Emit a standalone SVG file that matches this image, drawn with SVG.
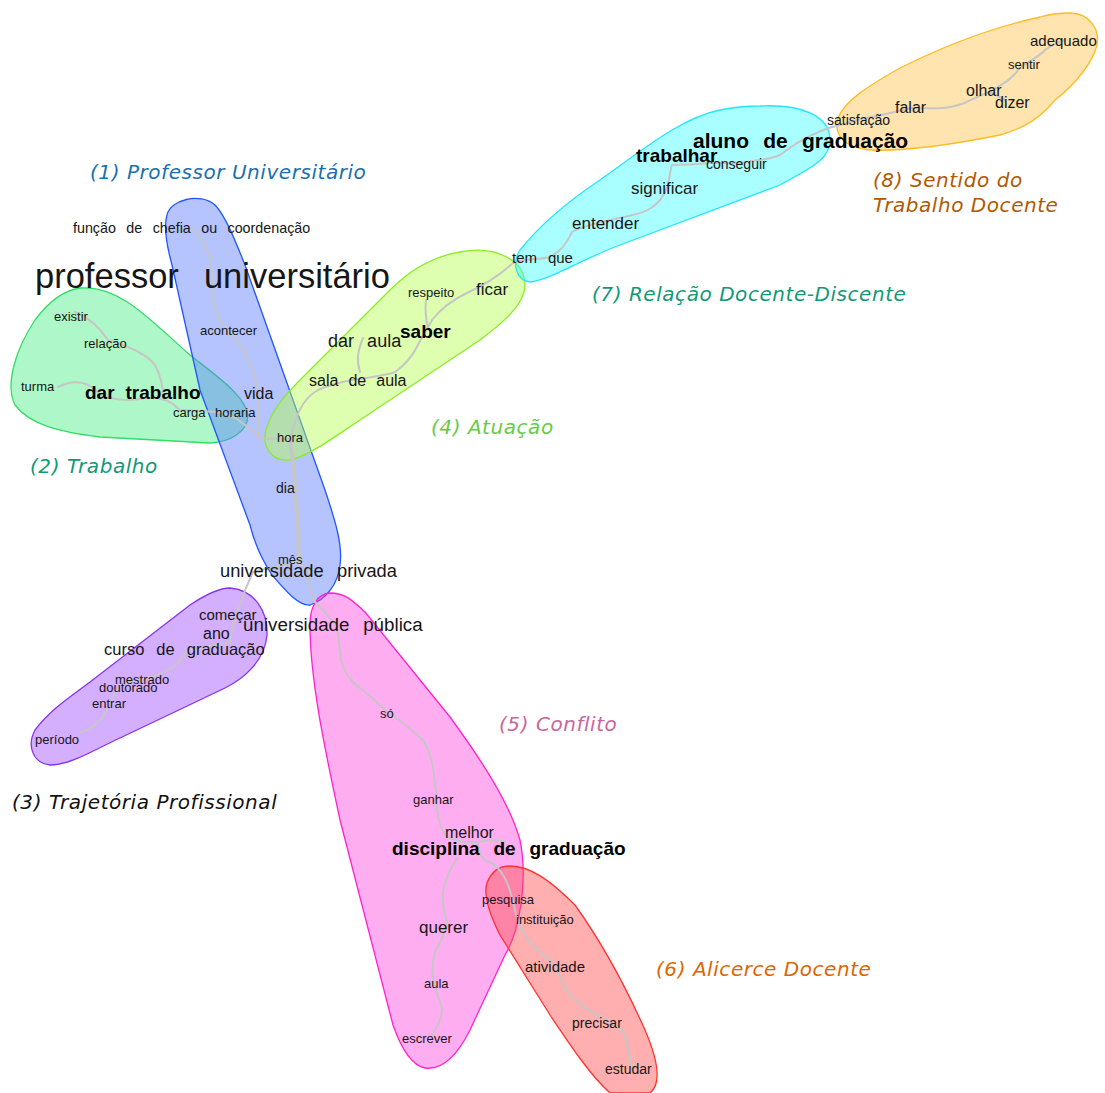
<svg xmlns="http://www.w3.org/2000/svg" width="1105" height="1093" viewBox="0 0 1105 1093">
<style>
.halo{stroke-width:1.3}
.e{fill:none;stroke:#c6c6c6;stroke-width:2;stroke-linejoin:round;stroke-linecap:round}
.w{font-family:"Liberation Sans",Arial,sans-serif;fill:#161616;word-spacing:0.45em}
.b{font-weight:bold;fill:#000}
.c{font-family:"DejaVu Sans",Verdana,sans-serif;font-style:italic;font-size:20px;letter-spacing:0.55px}
</style>
<rect width="1105" height="1093" fill="#ffffff"/>
<g id="halos">
<path id="halo-2" class="halo" fill="#6cf09a" fill-opacity="0.55" stroke="#33dd66" d="M 80,288 C 120,285 150,320 190,355 C 215,375 245,395 248,415 C 248,432 230,442 210,443 L 100,437 C 60,432 30,425 15,405 C 5,385 15,350 35,320 C 50,300 65,290 80,288 Z"/>
<path id="halo-1" class="halo" fill="#5a7dff" fill-opacity="0.45" stroke="#2255ff" d="M 167,215 C 170,200 200,192 215,205 C 225,215 235,240 245,265 L 325,490 C 335,520 343,545 340,565 C 338,585 325,600 310,605 C 298,606 285,590 272,575 C 262,560 255,545 250,525 L 200,390 L 172,265 C 166,243 164,225 167,215 Z"/>
<path id="halo-4" class="halo" fill="#b6ff4d" fill-opacity="0.45" stroke="#88ee22" d="M 460,252 C 495,245 525,260 525,285 C 525,305 500,325 480,340 L 360,420 C 330,440 310,455 290,460 C 270,462 262,445 266,430 C 272,410 285,395 300,380 L 390,290 C 410,270 435,256 460,252 Z"/>
<path id="halo-7" class="halo" fill="#33ffff" fill-opacity="0.42" stroke="#22e6ff" d="M 760,106 C 800,104 830,115 830,140 C 830,160 810,168 780,185 L 620,245 C 580,260 550,280 530,282 C 515,280 512,262 520,250 C 540,225 570,200 600,180 C 640,152 680,118 720,110 C 735,107 748,106 760,106 Z"/>
<path id="halo-8" class="halo" fill="#ffc34d" fill-opacity="0.45" stroke="#ffbb22" d="M 1070,13 C 1090,13 1100,30 1097,45 C 1093,62 1075,85 1055,100 C 1040,118 1025,128 1000,135 C 960,143 910,152 870,150 C 845,148 833,135 838,118 C 845,100 870,85 900,68 C 940,48 990,28 1040,17 C 1050,14 1060,13 1070,13 Z"/>
<path id="halo-3" class="halo" fill="#a04dff" fill-opacity="0.45" stroke="#8833ee" d="M 230,588 C 255,590 268,612 267,635 C 265,660 245,678 225,688 L 120,738 C 90,752 70,765 50,765 C 32,763 27,745 35,730 C 50,710 70,697 90,682 L 190,605 C 205,595 218,588 230,588 Z"/>
<path id="halo-5" class="halo" fill="#ff33dd" fill-opacity="0.4" stroke="#ff22cc" d="M 330,593 C 345,593 352,600 365,612 L 450,717 C 485,765 510,805 520,840 C 528,880 520,930 505,955 L 470,1030 C 455,1060 440,1070 425,1068 C 410,1065 400,1045 393,1025 L 340,820 C 325,750 310,680 310,625 C 310,605 318,594 330,593 Z"/>
<path id="halo-6" class="halo" fill="#ff4d4d" fill-opacity="0.45" stroke="#ff3333" d="M 510,866 C 530,866 550,880 575,905 C 600,940 625,985 645,1030 C 660,1065 660,1085 650,1093 L 610,1093 C 590,1075 570,1045 550,1015 L 500,935 C 490,915 483,895 487,883 C 492,870 500,866 510,866 Z"/>
</g>
<g id="connectors">
<path class="e" d="M 192,228 C 205,240 212,258 212,277 C 213,300 212,318 232,335 C 250,355 258,380 258,400 L 258,438 L 290,440"/>
<path class="e" d="M 218,412 C 235,414 248,428 262,438"/>
<path class="e" d="M 58,387 C 75,378 90,382 100,395 C 115,400 130,402 145,398 C 160,396 172,402 180,410 L 218,412"/>
<path class="e" d="M 75,312 C 90,318 100,328 108,340 C 125,345 145,352 155,365 C 160,375 163,385 163,395"/>
<path class="e" style="stroke-width:4" d="M 290,440 C 293,460 296,480 296,500 C 297,520 300,535 298,548 L 300,562"/>
<path class="e" d="M 300,562 L 308,572 C 310,585 310,595 315,602 C 325,612 332,618 337,628"/>
<path class="e" d="M 290,440 C 295,420 300,400 318,390 C 330,385 340,382 352,380 C 370,377 385,376 395,372 C 405,365 413,355 418,345 C 423,335 428,328 432,320 C 440,310 452,300 467,293 C 485,285 500,275 513,263"/>
<path class="e" d="M 363,338 C 358,350 356,360 360,372"/>
<path class="e" d="M 426,300 C 425,310 426,320 428,327"/>
<path class="e" d="M 513,263 C 525,258 540,260 550,257 C 560,252 566,245 572,232 C 590,222 615,220 632,215 C 648,212 660,205 667,188 C 670,178 670,170 672,165 C 685,165 700,164 710,163 L 738,163 C 755,160 770,160 780,155 L 797,143"/>
<path class="e" d="M 797,143 C 812,135 820,130 832,127 C 845,124 855,120 865,118 C 885,115 900,110 912,108 C 930,108 945,110 962,104 C 972,100 980,95 990,92 L 1005,100"/>
<path class="e" d="M 990,92 C 1000,85 1012,80 1018,70 C 1030,60 1040,56 1045,50 C 1052,45 1058,42 1065,40"/>
<path class="e" d="M 300,562 C 285,565 265,568 253,572 C 247,585 243,595 240,605 C 236,612 234,618 233,625 C 232,632 231,637 230,642 C 220,645 200,648 187,650 C 182,658 178,664 173,667 C 165,672 158,675 150,677 C 138,680 128,682 120,685 C 116,692 112,697 110,702 C 106,710 104,714 103,717 C 96,725 88,730 80,733"/>
<path class="e" d="M 337,628 C 339,640 340,650 341,660 C 345,675 352,683 360,688 C 370,696 378,703 385,710 C 400,720 412,730 423,740 C 430,752 433,762 434,775 C 436,790 437,800 437,810 C 438,820 440,828 447,837 C 458,842 468,843 478,842 C 490,840 498,840 505,842"/>
<path class="e" d="M 478,842 C 478,850 480,856 485,860 C 495,864 502,870 508,885 C 512,895 514,905 516,915 C 520,930 527,940 535,948 C 545,955 550,960 555,965 C 560,978 565,988 570,995 C 580,1005 588,1010 595,1014 C 605,1020 615,1024 622,1030 C 628,1040 628,1048 628,1052 C 630,1060 632,1066 633,1070"/>
<path class="e" d="M 457,858 C 450,870 444,882 443,893 C 442,905 445,915 447,923 C 445,935 440,942 436,950 C 433,958 432,968 433,978 C 435,988 437,995 441,1005 C 444,1015 438,1025 432,1035"/>
</g>
<g id="words">
<text class="w" x="73" y="233" font-size="14.3">função de chefia ou coordenação</text>
<text class="w" x="35" y="288" font-size="34.5">professor universitário</text>
<text class="w" x="54" y="321" font-size="13">existir</text>
<text class="w" x="84" y="348" font-size="13">relação</text>
<text class="w" x="21" y="391" font-size="13">turma</text>
<text class="w b" x="85" y="399" font-size="19" style="word-spacing:0.3em">dar trabalho</text>
<text class="w" x="173" y="417" font-size="13">carga horaria</text>
<text class="w" x="200" y="335" font-size="13">acontecer</text>
<text class="w" x="244" y="399" font-size="16">vida</text>
<text class="w" x="277" y="442" font-size="13">hora</text>
<text class="w" x="276" y="493" font-size="14">dia</text>
<text class="w" x="278" y="564" font-size="13">mês</text>
<text class="w" x="220" y="577" font-size="18.3">universidade privada</text>
<text class="w" x="243" y="631" font-size="18.8">universidade pública</text>
<text class="w" x="408" y="297" font-size="13">respeito</text>
<text class="w" x="476" y="295" font-size="17">ficar</text>
<text class="w" x="328" y="347" font-size="18">dar aula</text>
<text class="w b" x="400" y="338" font-size="19">saber</text>
<text class="w" x="309" y="386" font-size="16" style="word-spacing:0.35em">sala de aula</text>
<text class="w" x="512" y="263" font-size="15">tem que</text>
<text class="w" x="572" y="229" font-size="17">entender</text>
<text class="w" x="631" y="194" font-size="17">significar</text>
<text class="w b" x="636" y="162" font-size="19">trabalhar</text>
<text class="w" x="706" y="169" font-size="14">conseguir</text>
<text class="w b" x="693" y="148" font-size="21" style="word-spacing:0.4em">aluno de graduação</text>
<text class="w" x="827" y="125" font-size="14">satisfação</text>
<text class="w" x="895" y="113" font-size="16">falar</text>
<text class="w" x="966" y="96" font-size="16">olhar</text>
<text class="w" x="995" y="108" font-size="16">dizer</text>
<text class="w" x="1008" y="69" font-size="13">sentir</text>
<text class="w" x="1030" y="46" font-size="15">adequado</text>
<text class="w" x="199" y="620" font-size="15">começar</text>
<text class="w" x="203" y="639" font-size="16">ano</text>
<text class="w" x="104" y="655" font-size="16.5">curso de graduação</text>
<text class="w" x="115" y="684" font-size="13">mestrado</text>
<text class="w" x="99" y="692" font-size="13">doutorado</text>
<text class="w" x="92" y="708" font-size="13">entrar</text>
<text class="w" x="35" y="744" font-size="13">período</text>
<text class="w" x="380" y="718" font-size="13">só</text>
<text class="w" x="413" y="804" font-size="13">ganhar</text>
<text class="w" x="445" y="838" font-size="16">melhor</text>
<text class="w b" x="392" y="855" font-size="19">disciplina de graduação</text>
<text class="w" x="419" y="933" font-size="17">querer</text>
<text class="w" x="424" y="988" font-size="13">aula</text>
<text class="w" x="402" y="1043" font-size="13">escrever</text>
<text class="w" x="482" y="904" font-size="13">pesquisa</text>
<text class="w" x="516" y="924" font-size="13">instituição</text>
<text class="w" x="525" y="972" font-size="15">atividade</text>
<text class="w" x="572" y="1028" font-size="14">precisar</text>
<text class="w" x="605" y="1074" font-size="14">estudar</text>
</g>
<g id="cluster-labels">
<text class="c" x="90" y="179" fill="#1a6fb0">(1) Professor Universitário</text>
<text class="c" x="30" y="473" fill="#119977">(2) Trabalho</text>
<text class="c" x="12" y="809" fill="#111">(3) Trajetória Profissional</text>
<text class="c" x="431" y="434" fill="#66cc44">(4) Atuação</text>
<text class="c" x="499" y="731" fill="#cc6699">(5) Conflito</text>
<text class="c" x="656" y="976" fill="#dd6600">(6) Alicerce Docente</text>
<text class="c" x="592" y="301" fill="#119977">(7) Relação Docente-Discente</text>
<text class="c" x="873" y="187" fill="#b35900">(8) Sentido do</text>
<text class="c" x="873" y="212" fill="#b35900">Trabalho Docente</text>
</g>
</svg>
